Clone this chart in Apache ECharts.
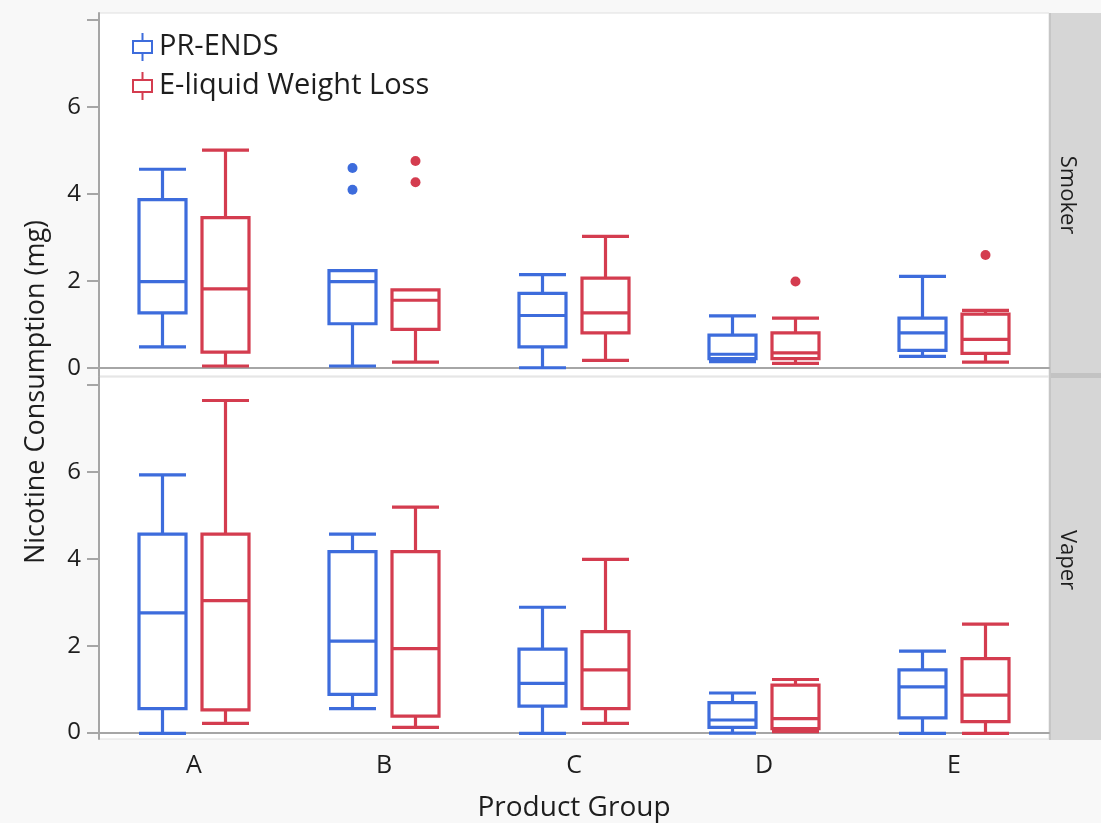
<!DOCTYPE html>
<html>
<head>
<meta charset="utf-8">
<script src="https://cdn.jsdelivr.net/npm/echarts@6/dist/echarts.min.js"></script>
<style>
html,body{margin:0;padding:0;background:#f8f8f8;}
#chart{width:1101px;height:823px;}
</style>
</head>
<body>
<div id="chart"></div>
<script>
// ---- data ----
const categories = ['A', 'B', 'C', 'D', 'E'];
const seriesNames = ['PR-ENDS', 'E-liquid Weight Loss'];
const panelNames = ['Smoker', 'Vaper'];
const yTickValues = [0, 2, 4, 6, 8];
const yLabelValues = [0, 2, 4, 6];
// [min, Q1, median, Q3, max]
const smokerPrEnds = [
  [0.49, 1.27, 1.99, 3.87, 4.57],
  [0.05, 1.02, 1.99, 2.24, 2.24],
  [0.01, 0.49, 1.21, 1.72, 2.15],
  [0.15, 0.22, 0.32, 0.76, 1.20],
  [0.27, 0.41, 0.81, 1.15, 2.11]
];
const smokerLiquid = [
  [0.05, 0.37, 1.82, 3.46, 5.01],
  [0.14, 0.89, 1.56, 1.80, 1.80],
  [0.18, 0.81, 1.27, 2.07, 3.03],
  [0.11, 0.22, 0.35, 0.81, 1.15],
  [0.14, 0.34, 0.66, 1.24, 1.33]
];
const vaperPrEnds = [
  [0.00, 0.57, 2.77, 4.58, 5.94],
  [0.57, 0.90, 2.12, 4.18, 4.58],
  [0.00, 0.63, 1.15, 1.94, 2.90],
  [0.01, 0.14, 0.31, 0.71, 0.93],
  [0.00, 0.36, 1.07, 1.46, 1.89]
];
const vaperLiquid = [
  [0.23, 0.54, 3.05, 4.58, 7.65],
  [0.14, 0.40, 1.95, 4.18, 5.20],
  [0.23, 0.57, 1.46, 2.34, 4.00],
  [0.04, 0.11, 0.34, 1.11, 1.24],
  [0.00, 0.27, 0.88, 1.72, 2.51]
];
const smokerPrEndsOutliers = [['B', 4.60], ['B', 4.10]];
const smokerLiquidOutliers = [['B', 4.76], ['B', 4.27], ['D', 1.99], ['E', 2.60]];

// ---- style ----
const BLUE = '#3d6cdc';
const RED = '#d43c4f';
const FONT = 'Open Sans';
const TXT = '#1e1e1e';
const AXIS = '#a6a6a6';

const W = 1101;
const plotLeft = 99, plotRight = 1049;
const rightGap = W - plotRight;
const shift = 31.5;
const panels = [
  {top: 13, height: 363, min: -0.18, max: 8.16},
  {top: 377, height: 363, min: -0.15, max: 8.19}
];

const grids = [], xAxes = [], yAxes = [], series = [];
panels.forEach((p, pi) => {
  // visible grid
  grids.push({left: plotLeft, right: rightGap, top: p.top, height: p.height,
    show: true, backgroundColor: '#ffffff', borderColor: '#e0e0e0', borderWidth: 1});
  const gi = grids.length - 1;
  xAxes.push({
    type: 'category', data: categories, gridIndex: gi,
    position: pi === 0 ? 'top' : 'bottom',
    axisLine: {show: true, lineStyle: {color: AXIS, width: 2}},
    axisTick: {show: false},
    axisLabel: {show: pi === 1, fontSize: 25, color: TXT, fontFamily: FONT, margin: 14},
    name: pi === 1 ? 'Product Group' : '',
    nameLocation: 'middle', nameGap: 55,
    nameTextStyle: {fontSize: 28, color: TXT, fontFamily: FONT}
  });
  yAxes.push({
    type: 'value', gridIndex: gi, min: p.min, max: p.max,
    splitLine: {show: false},
    axisLine: {show: true, lineStyle: {color: AXIS, width: 2}},
    axisTick: {show: true, length: 12, customValues: yTickValues, lineStyle: {color: AXIS, width: 2}},
    axisLabel: {fontSize: 24, color: TXT, fontFamily: FONT, margin: 18, customValues: yLabelValues}
  });
  // shifted hidden grids for the two side-by-side boxes
  [-shift, shift].forEach((off, si) => {
    grids.push({left: plotLeft + off, right: rightGap - off, top: p.top, height: p.height, show: false});
    const g = grids.length - 1;
    xAxes.push({type: 'category', data: categories, gridIndex: g, show: false});
    yAxes.push({type: 'value', gridIndex: g, min: p.min, max: p.max, show: false});
    const color = si === 0 ? BLUE : RED;
    const boxData = pi === 0 ? (si === 0 ? smokerPrEnds : smokerLiquid) : (si === 0 ? vaperPrEnds : vaperLiquid);
    series.push({
      type: 'boxplot', name: seriesNames[si], xAxisIndex: g, yAxisIndex: g,
      data: boxData, boxWidth: [47, 47],
      itemStyle: {color: 'rgba(255,255,255,0)', borderColor: color, borderWidth: 3.2},
      emphasis: {disabled: true}, silent: true, z: 3
    });
    const outs = pi === 0 ? (si === 0 ? smokerPrEndsOutliers : smokerLiquidOutliers) : [];
    if (outs.length) {
      series.push({
        type: 'scatter', name: seriesNames[si], xAxisIndex: g, yAxisIndex: g,
        data: outs, symbolSize: 10, itemStyle: {color: color, opacity: 1}, silent: true, z: 4
      });
    }
  });
});

const iconPath = 'path://M10.5,0V8M1,8H20V20H1ZM10.5,20V28';

const option = {
  backgroundColor: '#f8f8f8',
  animation: false,
  grid: grids,
  xAxis: xAxes,
  yAxis: yAxes,
  legend: {
    left: 127, top: 27, orient: 'vertical',
    itemWidth: 21, itemHeight: 28, itemGap: 9,
    textStyle: {fontSize: 29, color: TXT, fontFamily: FONT, padding: [0, 0, 0, 1]},
    data: [
      {name: seriesNames[0], icon: iconPath, itemStyle: {color: 'rgba(0,0,0,0)', borderColor: BLUE, borderWidth: 2}},
      {name: seriesNames[1], icon: iconPath, itemStyle: {color: 'rgba(0,0,0,0)', borderColor: RED, borderWidth: 2}}
    ],
    selectedMode: false
  },
  graphic: [
    {type: 'rect', shape: {x: plotRight, y: panels[0].top, width: 60, height: 363}, style: {fill: '#d6d6d6'}, silent: true},
    {type: 'rect', shape: {x: plotRight, y: 378, width: 60, height: 362}, style: {fill: '#d6d6d6'}, silent: true},
    {type: 'rect', shape: {x: plotRight, y: 373, width: 60, height: 5}, style: {fill: '#c3c3c3'}, silent: true},
    {type: 'rect', shape: {x: plotRight, y: panels[0].top, width: 2, height: 727}, style: {fill: '#c6c6c6'}, silent: true},
    {type: 'text', x: 1067, y: 195, rotation: -Math.PI / 2,
      style: {text: panelNames[0], fontSize: 22, fontFamily: FONT, fill: TXT, align: 'center', verticalAlign: 'middle'}},
    {type: 'text', x: 1067, y: 560, rotation: -Math.PI / 2,
      style: {text: panelNames[1], fontSize: 22, fontFamily: FONT, fill: TXT, align: 'center', verticalAlign: 'middle'}},
    {type: 'text', x: 36, y: 392, rotation: Math.PI / 2,
      style: {text: 'Nicotine Consumption (mg)', fontSize: 27, fontFamily: FONT, fill: TXT, align: 'center', verticalAlign: 'middle'}}
  ],
  series: series
};

const chart = echarts.init(document.getElementById('chart'), null, {renderer: 'canvas'});
chart.setOption(option);
</script>
</body>
</html>
